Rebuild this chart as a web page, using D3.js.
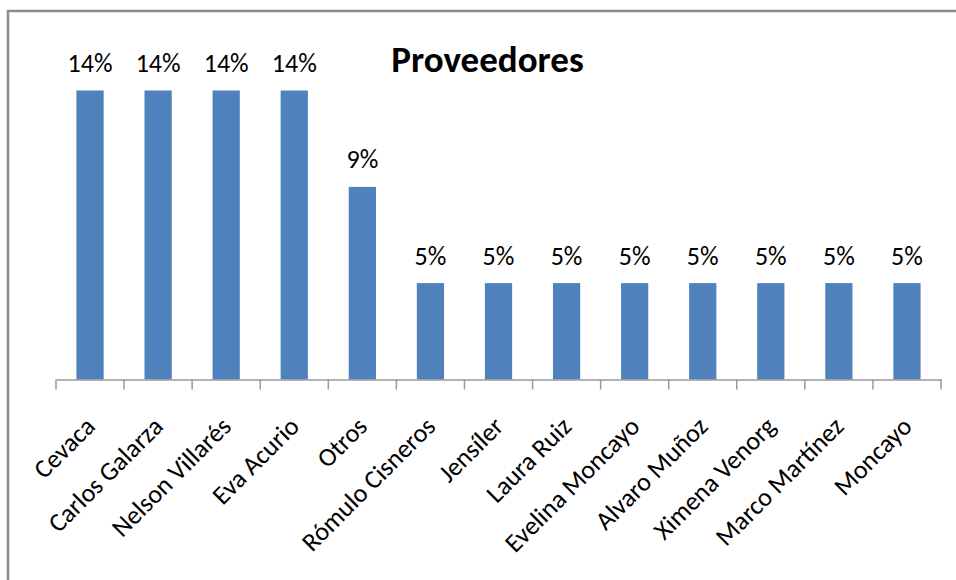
<!DOCTYPE html>
<html>
<head>
<meta charset="utf-8">
<script src="https://cdn.jsdelivr.net/npm/d3@7"></script>
<style>
  html, body { margin: 0; padding: 0; background: #fff; }
  svg { display: block; }
  text { font-family: Carlito, Lato, "Open Sans", sans-serif; fill: #000; }
</style>
</head>
<body>
<svg id="chart" width="956" height="580"></svg>
<script>
// Proveedores: share of each supplier (percent)
const categories = [
  "Cevaca", "Carlos Galarza", "Nelson Villarés", "Eva Acurio", "Otros",
  "Rómulo Cisneros", "Jensíler", "Laura Ruiz", "Evelina Moncayo",
  "Alvaro Muñoz", "Ximena Venorg", "Marco Martínez", "Moncayo"
];
const shares = [
  13.64, 13.64, 13.64, 13.64, 9.09,
  4.55, 4.55, 4.55, 4.55, 4.55, 4.55, 4.55, 4.55
];
const titleText = "Proveedores";
const yMax = 16;

const svg = d3.select("#chart");
const W = 956, H = 580;

// outer chart frame (extends past the right and bottom edges)
svg.append("rect")
  .attr("x", 8).attr("y", 11)
  .attr("width", W + 20).attr("height", H + 20)
  .attr("fill", "#fff")
  .attr("stroke", "#8c8c8c")
  .attr("stroke-width", 2.5);

const x = d3.scaleBand()
  .domain(categories)
  .range([56, 941])
  .paddingInner(0.6)
  .paddingOuter(0.3);

const y = d3.scaleLinear()
  .domain([0, yMax])
  .range([379.5, 40.5]);

const fmt = v => Math.round(v) + "%";

// title
svg.append("text")
  .attr("x", 487.5).attr("y", 71.5)
  .attr("text-anchor", "middle")
  .style("font-weight", "bold")
  .style("font-size", "37px")
  .text(titleText);

// bars
svg.append("g").selectAll("rect")
  .data(categories)
  .join("rect")
  .attr("x", d => x(d))
  .attr("y", (d, i) => y(shares[i]))
  .attr("width", x.bandwidth())
  .attr("height", (d, i) => y(0) - y(shares[i]))
  .attr("fill", "#4F81BD");

// value labels
svg.append("g").selectAll("text")
  .data(categories)
  .join("text")
  .attr("x", d => x(d) + x.bandwidth() / 2)
  .attr("y", (d, i) => y(shares[i]) - 18.5)
  .attr("text-anchor", "middle")
  .style("font-size", "26px")
  .text((d, i) => fmt(shares[i]));

// category axis
const axis = svg.append("g")
  .attr("transform", `translate(0,${y(0)})`)
  .call(d3.axisBottom(x).tickSize(0).tickPadding(0));
axis.select(".domain").attr("stroke", "#9a9a9a").attr("stroke-width", 1.5);
axis.selectAll(".tick text")
  .style("font-size", "26px")
  .attr("text-anchor", "end")
  .attr("dy", "0.35em")
  .attr("y", 0)
  .attr("x", 0)
  .attr("transform", "translate(0,42) rotate(-45)");

// tick marks on category boundaries
const step = x.step();
const bounds = categories.map(d => x(d) - step * x.paddingOuter())
  .concat([x(categories[categories.length - 1]) + x.bandwidth() + step * x.paddingOuter()]);
axis.append("g").selectAll("line")
  .data(bounds)
  .join("line")
  .attr("x1", d => d).attr("x2", d => d)
  .attr("y1", 0).attr("y2", 10)
  .attr("stroke", "#9a9a9a")
  .attr("stroke-width", 1.5);
</script>
</body>
</html>
